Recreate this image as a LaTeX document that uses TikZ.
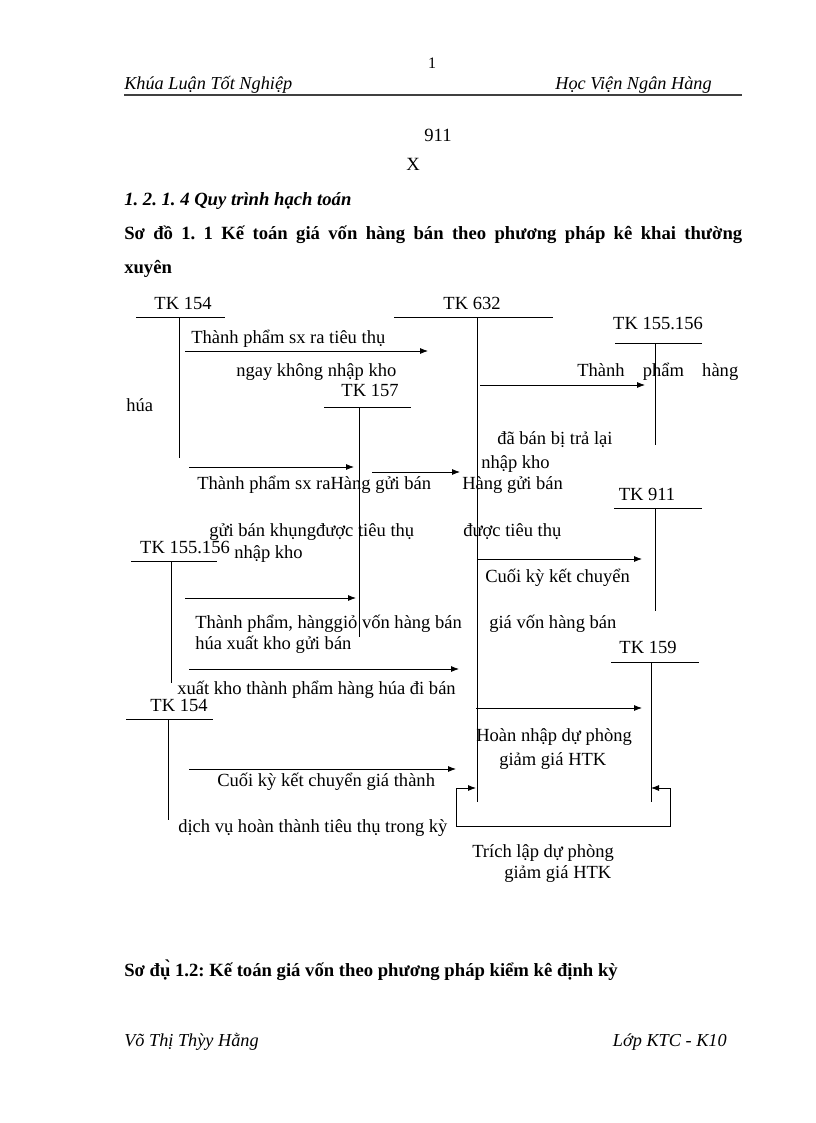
\documentclass[tikz,border=0pt]{standalone}
\usepackage{fontspec}
\setmainfont{Liberation Serif}
\usetikzlibrary{arrows.meta}
\frenchspacing
\newcommand\dfont{\fontsize{13.9}{16}\selectfont}
\newcommand\hfont{\fontsize{14}{17}\selectfont}
\begin{document}
\begin{tikzpicture}[x=0.75pt,y=-0.75pt,
  txt/.style={inner sep=0pt,font=\dfont,anchor=base west},
  tkl/.style={inner sep=0pt,font=\dfont,anchor=base},
  acc/.style={line width=0.6pt},
  arr/.style={line width=0.6pt,-{Latex[length=6pt,width=4.5pt]}},
  arrb/.style={line width=0.6pt,{Latex[length=6pt,width=4.5pt]}-{Latex[length=6pt,width=4.5pt]}}]
\useasboundingbox (0,0) rectangle (816,1123);
% header
\node[inner sep=0pt,anchor=base,font=\fontsize{12}{14}\selectfont] (pg) at (432,69) {1};
\node[inner sep=0pt,anchor=base west,font=\fontsize{13.7}{16}\selectfont\itshape] (hl) at (124,90) {Khúa Luận Tốt Nghiệp};
\node[inner sep=0pt,anchor=base east,font=\fontsize{13.7}{16}\selectfont\itshape] (hr) at (712,90) {Học Viện Ngân Hàng};
\coordinate (r1) at (124,95); \coordinate (r2) at (742,95);
\draw[line width=1.2pt,black!75] (r1) -- (r2);
\node[inner sep=0pt,anchor=base,font=\hfont] (n911) at (438,142) {911};
\node[inner sep=0pt,anchor=base,font=\hfont] (nx) at (413,171) {X};
\node[inner sep=0pt,anchor=base west,font=\hfont\bfseries\itshape] (sec) at (124,205) {1. 2. 1. 4 Quy trình hạch toán};
\node[inner sep=0pt,anchor=base west,font=\hfont\bfseries] (ttl) at (124,239) {\makebox[463.5pt][s]{Sơ đồ 1. 1 Kế toán giá vốn hàng bán theo phương pháp kê khai thường}};
\node[inner sep=0pt,anchor=base west,font=\hfont\bfseries] (ttl2) at (124,273) {xuyên};
% accounts
\node[tkl] (l154a) at (183,309) {TK 154};
\coordinate (h154aL) at (136,317); \coordinate (h154aR) at (225,317);
\coordinate (v154aT) at (179,317); \coordinate (v154aB) at (179,458);
\draw[acc] (h154aL) -- (h154aR) (v154aT) -- (v154aB);
\node[tkl] (l632) at (472,309) {TK 632};
\coordinate (h632L) at (394,317); \coordinate (h632R) at (553,317);
\coordinate (v632T) at (477,317); \coordinate (v632B) at (477,802);
\draw[acc] (h632L) -- (h632R) (v632T) -- (v632B);
\node[tkl] (l155a) at (658,329) {TK 155.156};
\coordinate (h155aL) at (615,343); \coordinate (h155aR) at (702,343);
\coordinate (v155aT) at (655,343); \coordinate (v155aB) at (655,445);
\draw[acc] (h155aL) -- (h155aR) (v155aT) -- (v155aB);
\node[tkl] (l157) at (370,396) {TK 157};
\coordinate (h157L) at (324,407); \coordinate (h157R) at (411,407);
\coordinate (v157T) at (359,407); \coordinate (v157B) at (359,637);
\draw[acc] (h157L) -- (h157R) (v157T) -- (v157B);
\node[tkl] (l911) at (647,500) {TK 911};
\coordinate (h911L) at (614,508); \coordinate (h911R) at (702,508);
\coordinate (v911T) at (655,508); \coordinate (v911B) at (655,611);
\draw[acc] (h911L) -- (h911R) (v911T) -- (v911B);
\node[tkl] (l155b) at (185,553) {TK 155.156};
\coordinate (h155bL) at (131,561); \coordinate (h155bR) at (217,561);
\coordinate (v155bT) at (171,561); \coordinate (v155bB) at (171,683);
\draw[acc] (h155bL) -- (h155bR) (v155bT) -- (v155bB);
\node[tkl] (l159) at (648,653) {TK 159};
\coordinate (h159L) at (611,662); \coordinate (h159R) at (699,662);
\coordinate (v159T) at (651,662); \coordinate (v159B) at (651,802);
\draw[acc] (h159L) -- (h159R) (v159T) -- (v159B);
\node[tkl] (l154b) at (179,711) {TK 154};
\coordinate (h154bL) at (126,719); \coordinate (h154bR) at (213,719);
\coordinate (v154bT) at (168,719); \coordinate (v154bB) at (168,820);
\draw[acc] (h154bL) -- (h154bR) (v154bT) -- (v154bB);
% arrows
\coordinate (a1s) at (185,351); \coordinate (a1e) at (428,351);
\coordinate (a2s) at (480,385); \coordinate (a2e) at (645,385);
\coordinate (a3s) at (189,467); \coordinate (a3e) at (354,467);
\coordinate (a4s) at (372,472); \coordinate (a4e) at (460,472);
\coordinate (a5s) at (478,559); \coordinate (a5e) at (642,559);
\coordinate (a6s) at (185,598); \coordinate (a6e) at (356,598);
\coordinate (a7s) at (189,669); \coordinate (a7e) at (459,669);
\coordinate (a8s) at (476,708); \coordinate (a8e) at (642,708);
\coordinate (a9s) at (189,769); \coordinate (a9e) at (456,769);
\draw[arr] (a1s) -- (a1e);
\draw[arr] (a2s) -- (a2e);
\draw[arr] (a3s) -- (a3e);
\draw[arr] (a4s) -- (a4e);
\draw[arr] (a5s) -- (a5e);
\draw[arr] (a6s) -- (a6e);
\draw[arr] (a7s) -- (a7e);
\draw[arr] (a8s) -- (a8e);
\draw[arr] (a9s) -- (a9e);
\coordinate (lpA) at (476,788); \coordinate (lpB) at (456,788);
\coordinate (lpC) at (456,826); \coordinate (lpD) at (670,826);
\coordinate (lpE) at (670,788); \coordinate (lpF) at (651,788);
\draw[arrb] (lpA) -- (lpB) -- (lpC) -- (lpD) -- (lpE) -- (lpF);
% labels
\node[txt] (t1) at (191,343) {Thành phẩm sx ra tiêu thụ};
\node[txt] (t2) at (236,376) {ngay không nhập kho};
\node[txt] (t3) at (577,376) {\makebox[120.75pt][s]{Thành phẩm hàng}};
\node[txt] (t4) at (126,411) {húa};
\node[txt] (t5) at (497,444) {đã bán bị trả lại};
\node[txt] (t6) at (481,468) {nhập kho};
\node[txt] (t7) at (197,489) {Thành phẩm sx raHàng gửi bán};
\node[txt] (t8) at (462,489) {Hàng gửi bán};
\node[txt] (t9) at (209,536) {gửi bán khụngđược tiêu thụ};
\node[txt] (t10) at (463,536) {được tiêu thụ};
\node[txt] (t11) at (234,558) {nhập kho};
\node[txt] (t12) at (485,582) {Cuối kỳ kết chuyển};
\node[txt] (t13) at (195,628) {Thành phẩm, hànggiỏ vốn hàng bán};
\node[txt] (t14) at (489,628) {giá vốn hàng bán};
\node[txt] (t15) at (195,649) {húa xuất kho gửi bán};
\node[txt] (t16) at (177,694) {xuất kho thành phẩm hàng húa đi bán};
\node[txt] (t17) at (476,741) {Hoàn nhập dự phòng};
\node[txt] (t18) at (499,765) {giảm giá HTK};
\node[txt] (t19) at (217,786) {Cuối kỳ kết chuyển giá thành};
\node[txt] (t20) at (178,832) {dịch vụ hoàn thành tiêu thụ trong kỳ};
\node[txt] (t21) at (472,857) {Trích lập dự phòng};
\node[txt] (t22) at (504,878) {giảm giá HTK};
% bottom
\node[inner sep=0pt,anchor=base west,font=\hfont\bfseries] (s12) at (124,976) {Sơ đụ̀ 1.2: Kế toán giá vốn theo phương pháp kiểm kê định kỳ};
\node[inner sep=0pt,anchor=base west,font=\fontsize{13.7}{16}\selectfont\itshape] (fl) at (124,1046) {Võ Thị Thỳy Hằng};
\node[inner sep=0pt,anchor=base east,font=\fontsize{13.7}{16}\selectfont\itshape] (fr) at (727,1046) {Lớp KTC - K10};
\end{tikzpicture}
\end{document}
